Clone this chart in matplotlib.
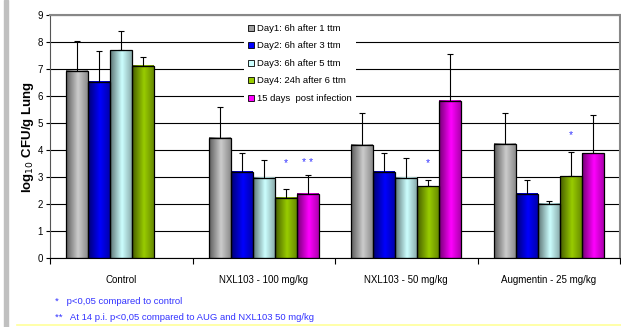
import matplotlib.pyplot as plt
import numpy as np
from matplotlib.patches import Patch, Rectangle
from matplotlib.lines import Line2D

plt.rcParams['font.family'] = ['Liberation Sans', 'DejaVu Sans']

# Dane (log10 CFU/g pluca)
groups = ['Control', 'NXL103 - 100 mg/kg', 'NXL103 - 50 mg/kg', 'Augmentin - 25 mg/kg']
series = ['Day1: 6h after 1 ttm', 'Day2: 6h after 3 ttm', 'Day3: 6h after 5 ttm',
          'Day4: 24h after 6 ttm', '15 days  post infection']
day1 = [6.92, 4.45, 4.20, 4.23]
day2 = [6.52, 3.21, 3.21, 2.39]
day3 = [7.69, 2.98, 2.96, 2.00]
day4 = [7.13, 2.24, 2.66, 3.03]
day15 = [np.nan, 2.37, 5.82, 3.88]
err1 = [1.13, 1.15, 1.16, 1.13]
err2 = [1.15, 0.70, 0.70, 0.50]
err3 = [0.71, 0.67, 0.76, 0.13]
err4 = [0.32, 0.34, 0.25, 0.89]
err15 = [np.nan, 0.72, 1.73, 1.43]
# gwiazdki istotnosci: (grupa, seria, tekst, wysokosc)
stars = [(1, 3, '*', 3.54), (1, 4, '* *', 3.54), (2, 3, '*', 3.54), (3, 3, '*', 4.54)]

values = [day1, day2, day3, day4, day15]
errors = [err1, err2, err3, err4, err15]
base_colors = ['#cccccc', '#0000ff', '#ccffff', '#99cc00', '#ff00ff']
legend_colors = ['#a0a0a0', '#0000ff', '#ccffff', '#99cc00', '#ff00ff']

W, H = 621, 327
fig = plt.figure(figsize=(W / 100, H / 100), dpi=100)
ax = fig.add_axes([50 / W, (H - 258.3) / H, 570 / W, 243.3 / H])

bw = 0.154
x = np.arange(len(groups))

# profil gradientu (ciemne brzegi, jasny srodek)
t = np.linspace(0, 1, 64)
prof = np.interp(t, [0, 0.55, 1], [0.45, 1.0, 0.68])

for j, (vals, errs, col) in enumerate(zip(values, errors, base_colors)):
    xs = x + (j - 2) * bw
    rgb = np.array(plt.matplotlib.colors.to_rgb(col))
    grad = (prof[:, None] * rgb[None, :])[None, :, :]
    for xi, v in zip(xs, vals):
        if np.isnan(v):
            continue
        ax.imshow(grad, extent=[xi - bw / 2, xi + bw / 2, 0, v], aspect='auto',
                  interpolation='bilinear', zorder=2)
    ax.bar(xs, vals, width=bw, facecolor='none', edgecolor='black', linewidth=0.9, zorder=3)
    ax.errorbar(xs, vals, yerr=[np.zeros(len(vals)), errs], fmt='none', ecolor='black',
                elinewidth=0.8, capsize=2.5, capthick=0.8, zorder=2.5)

for g, s, txt, yv in stars:
    ax.text(x[g] + (s - 2) * bw, yv, txt, color='#3333ff', fontsize=7.5,
            ha='center', va='center', zorder=4)

ax.set_xlim(-0.5, 3.5)
ax.set_ylim(0, 9)
ax.set_yticks(range(10))
ax.set_xticks(x)
ax.set_xticklabels(groups)
ax.set_xticks([-0.5, 0.5, 1.5, 2.5, 3.5], minor=True)
ax.tick_params(axis='x', which='major', length=0, pad=12, labelsize=7)
ax.tick_params(axis='x', which='minor', length=4, direction='out', width=0.8)
ax.tick_params(axis='y', length=3, direction='out', width=0.8, labelsize=7, pad=2)
ax.yaxis.grid(True, color='black', linewidth=0.8)
ax.set_axisbelow(True)

for side in ['top', 'right']:
    ax.spines[side].set_color('#888888')
    ax.spines[side].set_linewidth(1.5)
ax.spines['left'].set_color('#555555')
ax.spines['bottom'].set_color('black')

ax.set_ylabel('log$_{10}$ CFU/g Lung', fontsize=9.5, fontweight='bold', labelpad=1)

handles = [Patch(facecolor=c, edgecolor='black', linewidth=0.6) for c in legend_colors]
leg = ax.legend(handles, series, loc='upper left', bbox_to_anchor=(0.332, 1.0),
                fontsize=6.8, frameon=True, fancybox=False, edgecolor='none',
                facecolor='white', framealpha=1, handlelength=0.6, handleheight=0.6,
                handletextpad=0.3, labelspacing=0.9, borderpad=0.45)

# dekoracje strony (pasek z lewej, zolta linia na dole)
fig.patches.append(Rectangle((4 / W, 0), 4 / W, 1, transform=fig.transFigure,
                             color='#c0c0c0', zorder=0))
fig.add_artist(Line2D([17 / W, 1], [2 / H, 2 / H], color='#ffff99', linewidth=1.2))

fig.text(55 / W, 1 - 302 / H, '*   p<0,05 compared to control', color='#3333ff',
         fontsize=6.8, va='center')
fig.text(55 / W, 1 - 317 / H, '**   At 14 p.i. p<0,05 compared to AUG and NXL103 50 mg/kg',
         color='#3333ff', fontsize=6.8, va='center')

fig.savefig('out.png', dpi=100)
